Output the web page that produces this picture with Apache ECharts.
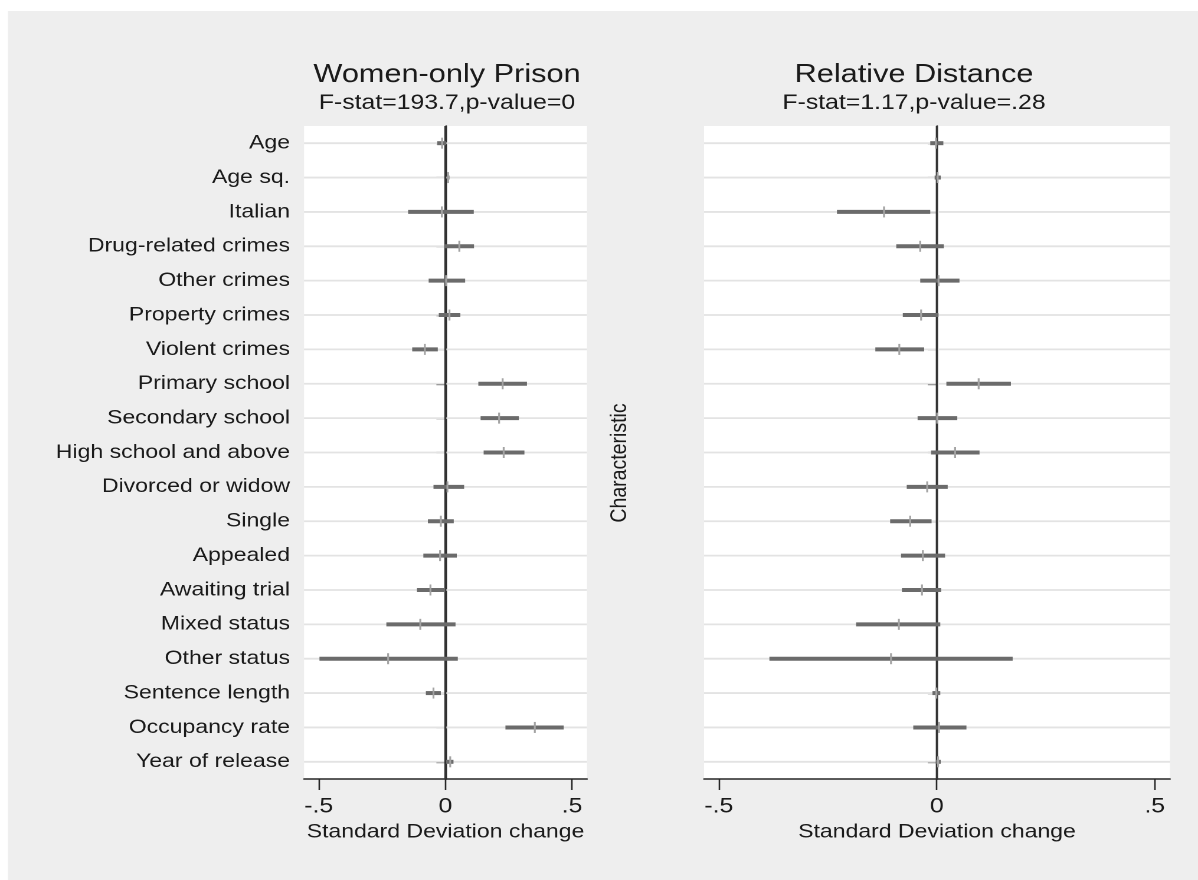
<!DOCTYPE html>
<html>
<head>
<meta charset="utf-8">
<script src="https://cdn.jsdelivr.net/npm/echarts@6/dist/echarts.min.js"></script>
<style>
html,body{margin:0;padding:0;background:#fff;overflow:hidden}
#wrap{width:1198px;height:880px;overflow:hidden;position:relative;background:#fff}
#chart{width:1015px;height:880px;transform:scaleX(1.18030);transform-origin:0 0;}
</style>
</head>
<body>
<div id="wrap"><div id="chart"></div></div>
<script>
// ---- data ----
const categories = ["Age","Age sq.","Italian","Drug-related crimes","Other crimes","Property crimes","Violent crimes","Primary school","Secondary school","High school and above","Divorced or widow","Single","Appealed","Awaiting trial","Mixed status","Other status","Sentence length","Occupancy rate","Year of release"];

const womenEst = [-0.013, 0.011, -0.014, 0.055, 0.003, 0.016, -0.081, 0.226, 0.212, 0.230, 0.008, -0.018, -0.021, -0.059, -0.099, -0.226, -0.047, 0.353, 0.019];
const womenLo  = [-0.032, 0.006, -0.147, -0.005, -0.066, -0.026, -0.131, 0.130, 0.139, 0.151, -0.047, -0.069, -0.087, -0.112, -0.233, -0.497, -0.077, 0.237, 0.003];
const womenHi  = [0.003, 0.016, 0.112, 0.113, 0.078, 0.059, -0.030, 0.322, 0.290, 0.312, 0.074, 0.033, 0.045, -0.001, 0.040, 0.049, -0.018, 0.467, 0.032];

const distEst = [-0.002, 0.002, -0.121, -0.038, 0.004, -0.036, -0.086, 0.096, 0.001, 0.042, -0.022, -0.061, -0.032, -0.034, -0.087, -0.105, -0.001, 0.005, 0.003];
const distLo  = [-0.015, -0.005, -0.229, -0.093, -0.038, -0.078, -0.141, 0.022, -0.044, -0.013, -0.069, -0.107, -0.082, -0.080, -0.185, -0.384, -0.010, -0.054, -0.002];
const distHi  = [0.015, 0.009, -0.015, 0.016, 0.052, 0.004, -0.029, 0.170, 0.047, 0.098, 0.025, -0.012, 0.019, 0.010, 0.008, 0.174, 0.008, 0.068, 0.009];

const xTicks = [-0.5, 0, 0.5];
const refValue = [0];
const panelTitles = ["Women-only Prison", "Relative Distance"];
const panelSubtitles = ["F-stat=193.7,p-value=0", "F-stat=1.17,p-value=.28"];
const xTitle = "Standard Deviation change";
const yTitle = "Characteristic";

// ---- layout (reference px -> chart px, chart is stretched horizontally) ----
const S = 1198 / 1015;
const X = v => v / S;
const FONT = '"Liberation Sans", Arial, Helvetica, sans-serif';
const TXT = '#1a1a1a';
const AX = '#262626';

const chart = echarts.init(document.getElementById('chart'), null, {renderer: 'canvas', width: 1015, height: 880, devicePixelRatio: 2});

function fmtTick(v) {
  if (v === 0) return '0';
  return (v < 0 ? '-' : '') + String(Math.abs(v)).replace(/^0\./, '.');
}

function gridRender(params, api) {
  const cs = params.coordSys;
  const y = api.coord([0, api.value(0)])[1];
  return {
    type: 'line',
    shape: {x1: cs.x, y1: y, x2: cs.x + cs.width, y2: y},
    style: {stroke: '#e3e3e3', lineWidth: 1.8},
    silent: true
  };
}

function zeroRender(params, api) {
  const cs = params.coordSys;
  const x = api.coord([api.value(0), 0])[0];
  return {
    type: 'rect',
    shape: {x: x - 0.85, y: cs.y, width: 1.7, height: cs.height},
    style: {fill: '#333333'},
    silent: true
  };
}

function ciRender(params, api) {
  const idx = api.value(3);
  const pLo = api.coord([api.value(0), idx]);
  const pHi = api.coord([api.value(1), idx]);
  const pEs = api.coord([api.value(2), idx]);
  return {
    type: 'group',
    children: [
      {type: 'line', shape: {x1: pLo[0], y1: pLo[1], x2: pHi[0], y2: pHi[1]},
       style: {stroke: '#6b6b6b', lineWidth: 4, lineCap: 'butt'}},
      {type: 'line', shape: {x1: pEs[0], y1: pEs[1] - 5.5, x2: pEs[0], y2: pEs[1] + 5.5},
       style: {stroke: '#a3a3a3', lineWidth: 1.6}}
    ]
  };
}

const grids = [
  {left: X(304), width: X(587 - 304), top: 126, height: 653},
  {left: X(704), width: X(1170 - 704), top: 126, height: 653}
];
const xRanges = [[-0.558, 0.559], [-0.534, 0.535]];

const series = [];
[0, 1].forEach(i => {
  series.push({type: 'custom', xAxisIndex: i, yAxisIndex: i, z: 1, silent: true,
    data: categories.map((c, k) => [k]), encode: {y: 0}, renderItem: gridRender});
});
series.push({type: 'custom', xAxisIndex: 0, yAxisIndex: 0, z: 5, silent: true,
  data: categories.map((c, i) => [womenLo[i], womenHi[i], womenEst[i], i]),
  encode: {x: [0, 1, 2], y: 3}, renderItem: ciRender});
series.push({type: 'custom', xAxisIndex: 1, yAxisIndex: 1, z: 5, silent: true,
  data: categories.map((c, i) => [distLo[i], distHi[i], distEst[i], i]),
  encode: {x: [0, 1, 2], y: 3}, renderItem: ciRender});
[0, 1].forEach(i => {
  series.push({type: 'custom', xAxisIndex: i, yAxisIndex: i, z: 4, silent: true, clip: false,
    data: refValue.map(v => [v]), encode: {x: 0}, renderItem: zeroRender});
});

const option = {
  animation: false,
  backgroundColor: '#ffffff',
  textStyle: {fontFamily: FONT},
  graphic: [
    {type: 'rect', z: -10, silent: true, shape: {x: X(8), y: 11, width: 1100, height: 900}, style: {fill: '#eeeeee'}},
    {type: 'text', x: X(447), y: 75, style: {text: panelTitles[0], font: '26px ' + FONT, fill: TXT, align: 'center', verticalAlign: 'middle'}},
    {type: 'text', x: X(447), y: 103, style: {text: panelSubtitles[0], font: '21px ' + FONT, fill: TXT, align: 'center', verticalAlign: 'middle'}},
    {type: 'text', x: X(914), y: 75, style: {text: panelTitles[1], font: '26px ' + FONT, fill: TXT, align: 'center', verticalAlign: 'middle'}},
    {type: 'text', x: X(914), y: 103, style: {text: panelSubtitles[1], font: '21px ' + FONT, fill: TXT, align: 'center', verticalAlign: 'middle'}},
    {type: 'text', x: X(620), y: 463, rotation: Math.PI / 2, style: {text: yTitle, font: '19.5px ' + FONT, fill: TXT, align: 'center', verticalAlign: 'middle'}}
  ],
  grid: grids.map(g => Object.assign({show: true, backgroundColor: '#ffffff', borderWidth: 0, containLabel: false}, g)),
  xAxis: [0, 1].map(i => ({
    type: 'value', gridIndex: i, min: xRanges[i][0], max: xRanges[i][1],
    position: 'bottom',
    axisLine: {show: true, onZero: false, lineStyle: {color: AX, width: 1.5}},
    axisTick: {show: true, customValues: xTicks, length: 11, lineStyle: {color: AX, width: 1.3}},
    axisLabel: {show: true, customValues: xTicks, formatter: fmtTick, fontSize: 21, color: TXT, margin: 17, fontFamily: FONT},
    splitLine: {show: false},
    name: xTitle, nameLocation: 'middle', nameGap: 40,
    nameTextStyle: {fontSize: 19.5, color: TXT, fontFamily: FONT}
  })),
  yAxis: [0, 1].map(i => ({
    type: 'category', gridIndex: i, data: categories, inverse: true, boundaryGap: true,
    axisLine: {show: true, lineStyle: {color: AX, width: 1.5}},
    axisTick: {show: true, alignWithLabel: true, length: X(9), lineStyle: {color: AX, width: 1.3}},
    axisLabel: {show: i === 0, interval: 0, fontSize: 19.5, color: TXT, margin: X(14), fontFamily: FONT},
    splitLine: {show: false}
  })),
  series: series
};
chart.setOption(option);
</script>
</body>
</html>
